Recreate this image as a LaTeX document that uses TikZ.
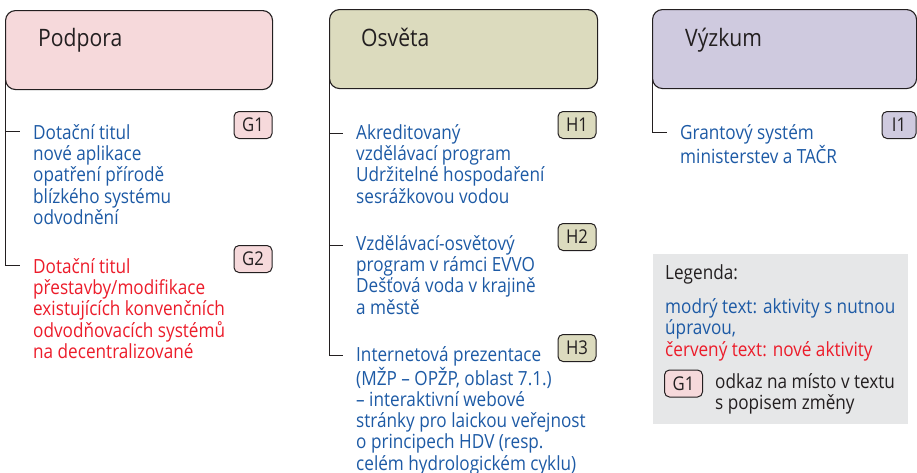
\documentclass[tikz,border=0pt]{standalone}
\usepackage{fontspec}
\setmainfont{Open Sans}[FakeStretch=0.88]
\definecolor{linedark}{HTML}{231F20}
\definecolor{podporafill}{HTML}{F6D9DB}
\definecolor{osvetafill}{HTML}{DCDBBE}
\definecolor{vyzkumfill}{HTML}{CFCADF}
\definecolor{legendfill}{HTML}{E6E7E8}
\definecolor{itemblue}{HTML}{1D5AA5}
\definecolor{itemred}{HTML}{EC1C2A}
\tikzset{
  headbox/.style={draw=linedark,line width=1.1pt,rounded corners=10pt,
    anchor=north west,minimum height=79pt,inner sep=0pt},
  headtext/.style={anchor=base west,inner sep=0pt,text=linedark,
    font=\fontsize{24}{30}\selectfont},
  % first baseline sits at the given point
  item/.style={anchor=north west,align=left,inner sep=0pt,yshift=14.91pt,
    font=\fontsize{19.5}{21.3}\selectfont,execute at begin node=\strut},
  tagbox/.style={draw=linedark,line width=1pt,rounded corners=5pt,
    minimum width=38pt,minimum height=27pt,inner sep=0pt,text=linedark,
    font=\fontsize{19}{20}\selectfont},
  trunk/.style={draw=linedark,line width=1pt}
}
\begin{document}
\begin{tikzpicture}[x=1pt,y=-1pt]
  \useasboundingbox (0,0) rectangle (917,472);
  % Podpora
  \node[headbox,fill=podporafill,minimum width=267pt] (pod) at (5,10) {};
  \node[headtext] (podtitle) at (38,46) {Podpora};
  \node[item,text=itemblue] (g1text) at (33,139)
    {Dotační titul\\nové aplikace\\opatření přírodě\\blízkého systému\\odvodnění};
  \node[item,text=itemred] (g2text) at (33,273)
    {Dotační titul\\přestavby/modifikace\\existujících konvenčních\\odvodňovacích systémů\\na decentralizované};
  \node[tagbox,fill=podporafill] (g1) at (253,125) {G1};
  \node[tagbox,fill=podporafill] (g2) at (253,259) {G2};
  \coordinate (g1end) at (20,131);
  \coordinate (g2end) at (20,265);
  \draw[trunk] (pod.west) |- (g2end);
  \draw[trunk] (pod.west |- g1end) -- (g1end);
  % Osveta
  \node[headbox,fill=osvetafill,minimum width=268pt] (osv) at (329,9) {};
  \node[headtext] (osvtitle) at (361,46) {Osvěta};
  \node[item,text=itemblue] (h1text) at (356,139)
    {Akreditovaný\\vzdělávací program\\Udržitelné hospodaření\\sesrážkovou vodou};
  \node[item,text=itemblue] (h2text) at (356,250)
    {Vzdělávací-osvětový\\program v rámci EVVO\\Dešťová voda v krajině\\a městě};
  \node[item,text=itemblue] (h3text) at (356,361)
    {Internetová prezentace\\(MŽP – OPŽP, oblast 7.1.)\\– interaktivní webové\\stránky pro laickou veřejnost\\o principech HDV (resp.\\celém hydrologickém cyklu)};
  \node[tagbox,fill=osvetafill] (h1) at (577,125) {H1};
  \node[tagbox,fill=osvetafill] (h2) at (577,237) {H2};
  \node[tagbox,fill=osvetafill] (h3) at (577,348) {H3};
  \coordinate (h1end) at (343,133);
  \coordinate (h2end) at (343,245);
  \coordinate (h3end) at (343,355);
  \draw[trunk] (osv.west) |- (h3end);
  \draw[trunk] (osv.west |- h1end) -- (h1end);
  \draw[trunk] (osv.west |- h2end) -- (h2end);
  % Vyzkum
  \node[headbox,fill=vyzkumfill,minimum width=264pt] (vyz) at (652,9) {};
  \node[headtext] (vyztitle) at (685,46) {Výzkum};
  \node[item,text=itemblue] (i1text) at (680,139)
    {Grantový systém\\ministerstev a TAČR};
  \node[tagbox,fill=vyzkumfill,minimum width=34pt] (i1) at (899,125) {I1};
  \coordinate (i1end) at (667,132);
  \draw[trunk] (vyz.west) |- (i1end);
  % Legenda
  \node[fill=legendfill,anchor=north west,minimum width=255pt,
    minimum height=170pt,inner sep=0pt] (legend) at (653,254) {};
  \node[item,text=linedark] (legtitle) at (665,279) {Legenda:};
  \node[item,text=itemblue] (legblue) at (665,313) {modrý text: aktivity s nutnou\\úpravou,};
  \node[item,text=itemred] (legred) at (665,356) {červený text: nové aktivity};
  \node[tagbox,fill=podporafill] (legtag) at (683.5,383.5) {G1};
  \node[item,text=linedark] (legnote) at (715,388) {odkaz na místo v textu\\s popisem změny};
\end{tikzpicture}
\end{document}
